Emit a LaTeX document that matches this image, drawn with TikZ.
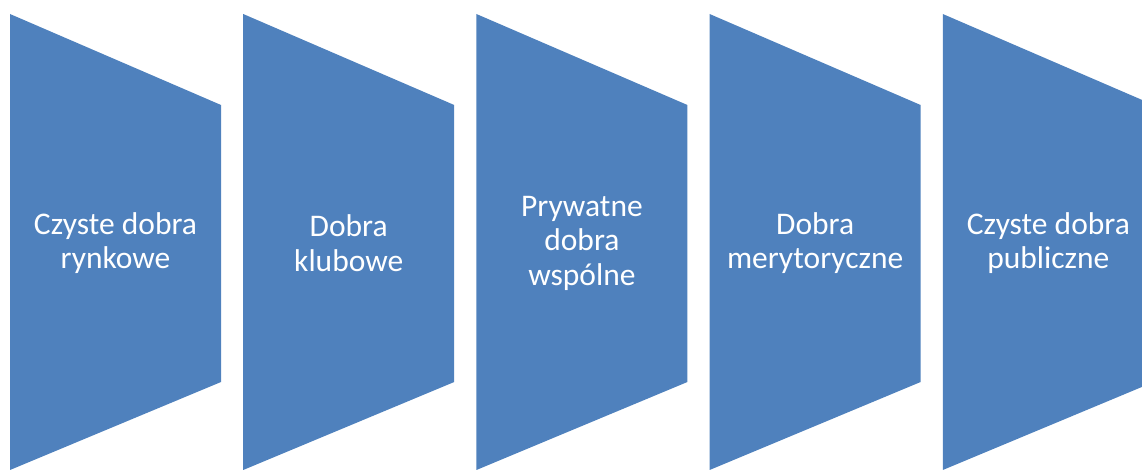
\documentclass[tikz,border=0pt]{standalone}
\usepackage{fontspec}
\setmainfont{Carlito}
\definecolor{segblue}{RGB}{79,129,189}

\begin{document}
\begin{tikzpicture}[
  x=1pt,y=-1pt,
  seg/.style={fill=segblue,draw=none},
  lbl/.style={text=white,align=center,font=\fontsize{31.5}{34.5}\selectfont,inner sep=0pt}
]
\useasboundingbox (0,0) rectangle (1142,470);
\clip (0,0) rectangle (1142,470);
\foreach \i/\txt in {0/{Czyste dobra\\rynkowe},1/{Dobra\\klubowe},2/{Prywatne\\dobra\\wspólne},3/{Dobra\\merytoryczne},4/{Czyste dobra\\publiczne}}{
  \path[seg] (10+233.2*\i,14) -- (221+233.2*\i,105) -- (221+233.2*\i,382) -- (10+233.2*\i,470) -- cycle;
  \node[lbl] (s\i) at (115.5+233.2*\i,243) {\txt};
}
\end{tikzpicture}
\end{document}
